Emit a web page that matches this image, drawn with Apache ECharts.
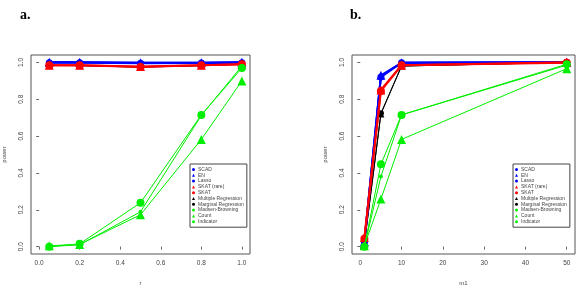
<!DOCTYPE html>
<html><head><meta charset="utf-8">
<script src="https://cdn.jsdelivr.net/npm/echarts@6/dist/echarts.min.js"></script>
<style>html,body{margin:0;padding:0;background:#fff}#c{width:582px;height:294px}</style>
</head><body><div id="c"></div>
<script>
// ---- data ----
const seriesNames = ["SCAD","EN","Lasso","SKAT (rare)","SKAT","Multiple Regression","Marginal Regression","Madsen-Browning","Count","Indicator"];
const rValues = [0.05, 0.2, 0.5, 0.8, 1.0];
const a_SCAD = [1.0, 1.0, 0.998, 0.998, 1.0];
const a_EN = [1.0, 1.0, 0.998, 0.998, 1.0];
const a_Lasso = [0.998, 0.998, 0.995, 0.996, 0.998];
const a_SKATrare = [0.985, 0.985, 0.978, 0.985, 0.99];
const a_SKAT = [0.984, 0.984, 0.975, 0.984, 0.99];
const a_Multiple = [0.983, 0.983, 0.975, 0.983, 0.99];
const a_Marginal = [0.983, 0.982, 0.974, 0.982, 0.989];
const a_MB = [0.0, 0.01, 0.189, 0.712, 0.98];
const a_Count = [0.005, 0.012, 0.173, 0.582, 0.899];
const a_Indicator = [0.0, 0.015, 0.238, 0.715, 0.969];

const m1Values = [1, 5, 10, 50];
const b_SCAD = [0.027, 0.925, 0.998, 1.0];
const b_EN = [0.027, 0.93, 0.998, 1.0];
const b_Lasso = [0.025, 0.92, 0.998, 1.0];
const b_SKATrare = [0.05, 0.85, 0.985, 1.0];
const b_SKAT = [0.043, 0.845, 0.984, 0.998];
const b_Multiple = [0.015, 0.72, 0.98, 1.0];
const b_Marginal = [0.015, 0.724, 0.98, 1.0];
const b_MB = [0.0, 0.38, 0.715, 0.985];
const b_Count = [0.005, 0.258, 0.582, 0.966];
const b_Indicator = [0.0, 0.447, 0.715, 0.99];

const rTicks = [0.0, 0.2, 0.4, 0.6, 0.8, 1.0];
const m1Ticks = [0, 10, 20, 30, 40, 50];
const powerTicks = [0.0, 0.2, 0.4, 0.6, 0.8, 1.0];

// ---- styles ----
const styles = [
  {color:'#0000ff', symbol:'circle', size:3, lw:2, z:4},
  {color:'#0000ff', symbol:'triangle', size:9, lw:2, z:5},
  {color:'#0000ff', symbol:'circle', size:7, lw:2, z:6},
  {color:'#ff0000', symbol:'triangle', size:9, lw:2, z:7},
  {color:'#ff0000', symbol:'circle', size:8, lw:2, z:8},
  {color:'#000000', symbol:'triangle', size:7, lw:1, z:2},
  {color:'#000000', symbol:'circle', size:6, lw:1, z:3},
  {color:'#00ee00', symbol:'circle', size:4, lw:1, z:9},
  {color:'#00ee00', symbol:'triangle', size:9, lw:1, z:10},
  {color:'#00ee00', symbol:'circle', size:8, lw:1, z:11}
];
const aData = [a_SCAD,a_EN,a_Lasso,a_SKATrare,a_SKAT,a_Multiple,a_Marginal,a_MB,a_Count,a_Indicator];
const bData = [b_SCAD,b_EN,b_Lasso,b_SKATrare,b_SKAT,b_Multiple,b_Marginal,b_MB,b_Count,b_Indicator];

function mkSeries(xs, arrs, idx){
  return arrs.map((arr,i)=>({
    type:'line', name:seriesNames[i], xAxisIndex:idx, yAxisIndex:idx,
    data: xs.map((x,j)=>[x,arr[j]]),
    symbol:styles[i].symbol, symbolSize:styles[i].size, showSymbol:true,
    itemStyle:{color:styles[i].color}, lineStyle:{color:styles[i].color,width:styles[i].lw},
    emphasis:{disabled:true}, animation:false, z: styles[i].z
  }));
}

const font = 'Liberation Sans';
function xAxis(idx, min, max, ticks, name){
  return {type:'value', gridIndex:idx, min:min, max:max, name:name, nameLocation:'middle', nameGap:26,
    nameTextStyle:{fontFamily:font,fontSize:6,color:'#444'},
    axisLine:{show:false}, splitLine:{show:false},
    axisTick:{show:true, length:3, customValues:ticks, lineStyle:{color:'#444',width:0.8}},
    axisLabel:{customValues:ticks, fontFamily:font, fontSize:6.5, color:'#444', margin:6,
      formatter:(v)=> (max<2? v.toFixed(1): String(v))}};
}
function yAxis(idx){
  return {type:'value', gridIndex:idx, min:-0.04, max:1.04, name:'power', nameLocation:'middle', nameGap:24,
    nameTextStyle:{fontFamily:font,fontSize:6,color:'#444'},
    axisLine:{show:false}, splitLine:{show:false},
    axisTick:{show:true, length:3, customValues:powerTicks, lineStyle:{color:'#444',width:0.8}},
    axisLabel:{customValues:powerTicks, rotate:90, fontFamily:font, fontSize:6.5, color:'#444', margin:6,
      formatter:(v)=>v.toFixed(1)}};
}
function legend(left){
  return {left:left, top:164, orient:'vertical', selectedMode:false,
    borderColor:'#444', borderWidth:1, padding:[3,3,3,2],
    itemWidth:3, itemHeight:3, itemGap:0.8,
    textStyle:{fontFamily:font, fontSize:5, lineHeight:5, color:'#444', padding:[0,0,0,-2]},
    data: seriesNames.map((n,i)=>({name:n, icon: styles[i].symbol, itemStyle:{color:styles[i].color}}))};
}

const chart = echarts.init(document.getElementById('c'), null, {renderer:'canvas'});
chart.setOption({
  animation:false,
  backgroundColor:'#fff',
  title:[
    {text:'a.', left:20, top:8, padding:0, textStyle:{fontFamily:'Liberation Serif', fontWeight:'bold', fontSize:14, color:'#000'}},
    {text:'b.', left:350, top:8, padding:0, textStyle:{fontFamily:'Liberation Serif', fontWeight:'bold', fontSize:14, color:'#000'}}
  ],
  grid:[
    {left:28, top:55, width:222, height:199, show:true, borderColor:'#555', borderWidth:1, backgroundColor:'transparent'},
    {left:352, top:55, width:223, height:199, show:true, borderColor:'#555', borderWidth:1, backgroundColor:'transparent'}
  ],
  xAxis:[xAxis(0,-0.04,1.04,rTicks,'r'), xAxis(1,-2,52,m1Ticks,'m1')],
  yAxis:[yAxis(0), yAxis(1)],
  legend:[legend(190), legend(513)],
  series: mkSeries(rValues,aData,0).concat(mkSeries(m1Values,bData,1))
});
</script></body></html>
